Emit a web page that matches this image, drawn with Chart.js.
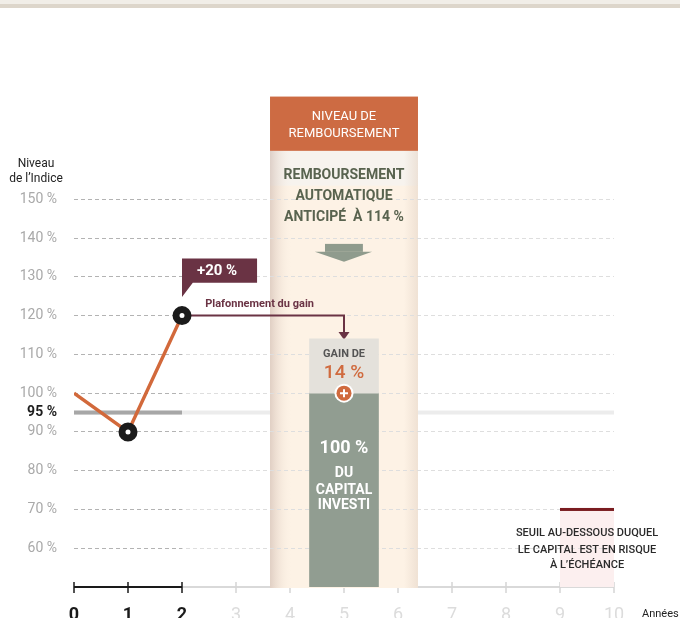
<!DOCTYPE html>
<html>
<head>
  <meta charset="UTF-8">
  <script src="https://cdn.jsdelivr.net/npm/chart.js@4.4.1/dist/chart.umd.min.js"></script>
  <style>
    body { margin: 0; background: #fff; }
  </style>
</head>
<body>
  <canvas id="myChart" width="680" height="618"></canvas>
  <script>
    // data
    const years = [0, 1, 2];
    const indexLevels = [100, 90, 120];
    const capitalRange = [50, 100];   // 100 % du capital
    const gainRange = [100, 114];     // gain de 14 %
    const redemptionYear = 5;
    const barrierLevel = 95;
    const riskLevel = 70;
    const riskYears = [9, 10];
    const yTickValues = [60, 70, 80, 90, 95, 100, 110, 120, 130, 140, 150];
    const xTickLabels = ['0', '1', '2', '3', '4', '5', '6', '7', '8', '9', '10'];

    const FONT = 'Roboto, "Noto Sans", sans-serif';
    const ORANGE = '#d2693b';
    const MAROON = '#6a3344';

    // column "niveau de remboursement" (data units)
    const col = { from: 3.63, to: 6.37, top: 176.5, header: 162.5, band: 153.5 };

    const tickVal = c => (c && c.tick) ? c.tick.value : null;

    const decor = {
      id: 'decor',
      beforeDraw(chart) {
        const { ctx, scales: { x, y } } = chart;
        const px = v => x.getPixelForValue(v), py = v => y.getPixelForValue(v);
        ctx.save();
        // bandes du haut
        ctx.fillStyle = '#f1eee8'; ctx.fillRect(0, 0, chart.width, 4);
        ctx.fillStyle = '#ddd6cb'; ctx.fillRect(0, 4, chart.width, 4);

        // seuil 95 %
        ctx.fillStyle = '#ececec';
        ctx.fillRect(px(0), py(barrierLevel) - 2, px(10) - px(0), 4);
        ctx.fillStyle = '#a7a7a7';
        ctx.fillRect(px(0), py(barrierLevel) - 2, px(2) - px(0), 4);

        // axe des années
        const y0 = py(50);
        ctx.lineWidth = 2;
        ctx.strokeStyle = '#d9d9d9';
        ctx.beginPath(); ctx.moveTo(px(2), y0); ctx.lineTo(px(10), y0); ctx.stroke();
        ctx.strokeStyle = '#1a1a1a';
        ctx.beginPath(); ctx.moveTo(px(0), y0); ctx.lineTo(px(2), y0); ctx.stroke();
        ctx.lineWidth = 1.5;
        xTickLabels.forEach((l, i) => {
          ctx.strokeStyle = i <= 2 ? '#1a1a1a' : '#d4d4d4';
          ctx.beginPath(); ctx.moveTo(px(i), y0 - 5); ctx.lineTo(px(i), y0 + 6); ctx.stroke();
        });

        // zone de risque
        ctx.fillStyle = '#fcefef';
        ctx.fillRect(px(riskYears[0]), py(riskLevel), px(riskYears[1]) - px(riskYears[0]), y0 - py(riskLevel));

        // colonne
        const cl = px(col.from), cr = px(col.to), cw = cr - cl;
        ctx.fillStyle = '#fdf2e5';
        ctx.fillRect(cl, py(col.header), cw, y0 + 1 - py(col.header));
        ctx.fillStyle = '#f7f3ee';
        ctx.fillRect(cl, py(col.header), cw, py(col.band) - py(col.header));
        let g = ctx.createLinearGradient(cl, 0, cl + 22, 0);
        g.addColorStop(0, 'rgba(200,178,168,0.55)');
        g.addColorStop(1, 'rgba(253,242,229,0)');
        ctx.fillStyle = g;
        ctx.fillRect(cl, py(col.header), 22, y0 + 1 - py(col.header));
        g = ctx.createLinearGradient(cr - 14, 0, cr, 0);
        g.addColorStop(0, 'rgba(230,214,200,0)');
        g.addColorStop(1, 'rgba(230,214,200,0.6)');
        ctx.fillStyle = g;
        ctx.fillRect(cr - 14, py(col.header), 14, y0 + 1 - py(col.header));
        ctx.fillStyle = '#cd6b43';
        ctx.fillRect(cl, py(col.top), cw, py(col.header) - py(col.top));
        ctx.restore();
      },
      beforeDatasetsDraw(chart) {
        const { ctx, scales: { x, y } } = chart;
        const px = v => x.getPixelForValue(v), py = v => y.getPixelForValue(v);
        ctx.save();
        // ligne du seuil de risque
        ctx.fillStyle = '#7a1c20';
        ctx.fillRect(px(riskYears[0]), py(riskLevel) - 1.5, px(riskYears[1]) - px(riskYears[0]), 3);

        // plafonnement du gain
        ctx.strokeStyle = MAROON; ctx.fillStyle = MAROON; ctx.lineWidth = 2;
        ctx.beginPath();
        ctx.moveTo(px(years[2]), py(indexLevels[2]));
        ctx.lineTo(px(redemptionYear), py(indexLevels[2]));
        ctx.lineTo(px(redemptionYear), py(115.8));
        ctx.stroke();
        ctx.beginPath();
        ctx.moveTo(px(redemptionYear) - 5.5, py(115.8));
        ctx.lineTo(px(redemptionYear) + 5.5, py(115.8));
        ctx.lineTo(px(redemptionYear), py(113.8));
        ctx.closePath(); ctx.fill();

        // bulle +20 %
        ctx.beginPath();
        ctx.moveTo(px(2), py(134.7));
        ctx.lineTo(px(3.39), py(134.7));
        ctx.lineTo(px(3.39), py(128.5));
        ctx.lineTo(px(2.2), py(128.5));
        ctx.lineTo(px(2), py(124.8));
        ctx.closePath(); ctx.fill();

        // flèche descendante
        ctx.fillStyle = '#8f9b8d';
        ctx.fillRect(px(4.648), py(138.5), px(5.35) - px(4.648), py(136.45) - py(138.5));
        ctx.beginPath();
        ctx.moveTo(px(4.46), py(136.45));
        ctx.lineTo(px(5.52), py(136.45));
        ctx.lineTo(px(5), py(133.9));
        ctx.closePath(); ctx.fill();
        ctx.restore();
      },
      afterDatasetsDraw(chart) {
        const { ctx, chartArea, scales: { x, y } } = chart;
        const px = v => x.getPixelForValue(v), py = v => y.getPixelForValue(v);
        const text = (s, xv, yv, font, color, align) => {
          ctx.font = font; ctx.fillStyle = color;
          ctx.textAlign = align || 'center'; ctx.textBaseline = 'middle';
          ctx.fillText(s, px(xv), py(yv));
        };
        ctx.save();
        // pastille +
        const cx = px(redemptionYear), cy = py(gainRange[0]);
        ctx.fillStyle = '#fff';
        ctx.beginPath(); ctx.arc(cx, cy, 9.5, 0, Math.PI * 2); ctx.fill();
        ctx.fillStyle = '#d06a3e';
        ctx.beginPath(); ctx.arc(cx, cy, 7.5, 0, Math.PI * 2); ctx.fill();
        ctx.strokeStyle = '#fff'; ctx.lineWidth = 2;
        ctx.beginPath();
        ctx.moveTo(cx - 4, cy); ctx.lineTo(cx + 4, cy);
        ctx.moveTo(cx, cy - 4); ctx.lineTo(cx, cy + 4);
        ctx.stroke();

        // textes de la colonne
        text('NIVEAU DE', 5, 171.3, '13px ' + FONT, '#fff');
        text('REMBOURSEMENT', 5, 166.9, '13px ' + FONT, '#fff');
        text('REMBOURSEMENT', 5, 156.1, 'bold 14px ' + FONT, '#59634f');
        text('AUTOMATIQUE', 5, 150.6, 'bold 14px ' + FONT, '#59634f');
        text('ANTICIPÉ  À 114 %', 5, 145.2, 'bold 14px ' + FONT, '#59634f');
        text('GAIN DE', 5, 110.1, 'bold 11px ' + FONT, '#555');
        text('14 %', 5, 105.2, '500 19px ' + FONT, '#d06a3e');
        text('100 %', 5, 85.6, 'bold 18px ' + FONT, '#fff');
        text('DU', 5, 79.4, 'bold 14px ' + FONT, '#fff');
        text('CAPITAL', 5, 75.0, 'bold 14px ' + FONT, '#fff');
        text('INVESTI', 5, 70.9, 'bold 14px ' + FONT, '#fff');

        // annotations
        text('+20 %', 2.65, 131.5, 'bold 15px ' + FONT, '#fff');
        text('Plafonnement du gain', 2.43, 123.0, 'bold 11px ' + FONT, MAROON, 'left');
        text('SEUIL AU-DESSOUS DUQUEL', 9.5, 63.9, '500 11px ' + FONT, '#2a2a2a');
        text('LE CAPITAL EST EN RISQUE', 9.5, 59.5, '500 11px ' + FONT, '#2a2a2a');
        text('À L\u2019ÉCHÉANCE', 9.5, 55.7, '500 11px ' + FONT, '#2a2a2a');

        // titres d'axes
        ctx.font = '12px ' + FONT; ctx.fillStyle = '#222';
        ctx.textAlign = 'center'; ctx.textBaseline = 'middle';
        ctx.fillText('Niveau', 36, 164);
        ctx.fillText('de l\u2019Indice', 36, 179);
        ctx.font = '11px ' + FONT;
        ctx.textAlign = 'left';
        ctx.fillText('Années', chartArea.right + 28, 614);
        ctx.restore();
      }
    };

    function gridColor(c) {
      if (tickVal(c) === barrierLevel) return 'rgba(0,0,0,0)';
      const ca = c.chart.chartArea;
      const sx = c.chart.scales.x;
      if (!ca || !sx) return '#ddd';
      const g = c.chart.ctx.createLinearGradient(ca.left, 0, ca.right, 0);
      const stop = Math.min(1, Math.max(0, (sx.getPixelForValue(2) - ca.left) / (ca.right - ca.left)));
      g.addColorStop(0, '#b3b3b3');
      g.addColorStop(stop, '#b3b3b3');
      g.addColorStop(stop, '#dedede');
      g.addColorStop(1, '#dedede');
      return g;
    }

    const ctx = document.getElementById('myChart').getContext('2d');
    const chart = new Chart(ctx, {
      type: 'bar',
      data: {
        datasets: [
          {
            type: 'line',
            data: years.map((yr, i) => ({ x: yr, y: indexLevels[i] })),
            borderColor: ORANGE,
            borderWidth: 3.5,
            pointRadius: c => c.dataIndex === 0 ? 0 : 6,
            pointBackgroundColor: '#fff',
            pointBorderColor: '#1b1b1b',
            pointBorderWidth: 7,
            tension: 0,
            order: 0
          },
          {
            data: [{ x: redemptionYear, y: capitalRange }],
            backgroundColor: '#919d91',
            barThickness: 69,
            grouped: false,
            order: 2
          },
          {
            data: [{ x: redemptionYear, y: gainRange }],
            backgroundColor: '#e4e1db',
            barThickness: 69,
            grouped: false,
            order: 1
          }
        ]
      },
      options: {
        responsive: false,
        animation: false,
        devicePixelRatio: 1,
        layout: { padding: { top: 83, right: 66, bottom: 0, left: 0 } },
        plugins: { legend: { display: false }, tooltip: { enabled: false } },
        scales: {
          x: {
            type: 'linear',
            offset: false,
            min: 0,
            max: 10,
            afterFit: s => { s.height = 31; },
            afterBuildTicks: s => { s.ticks = xTickLabels.map((l, i) => ({ value: i })); },
            grid: { display: false, drawTicks: false, offset: false },
            border: { display: false },
            ticks: {
              autoSkip: false,
              maxRotation: 0,
              padding: 18,
              callback: (v, i) => xTickLabels[i],
              color: c => tickVal(c) !== null && tickVal(c) <= 2 ? '#1a1a1a' : '#dcdcdc',
              font: c => ({ family: FONT, size: 18, weight: tickVal(c) !== null && tickVal(c) <= 2 ? 'bold' : 'normal' })
            }
          },
          y: {
            min: 50,
            max: 180,
            afterFit: s => { s.width = 74; },
            afterBuildTicks: s => { s.ticks = yTickValues.map(v => ({ value: v })); },
            grid: { color: gridColor, lineWidth: 1, drawTicks: false },
            border: { display: false, dash: [4, 3] },
            ticks: {
              autoSkip: false,
              padding: 17,
              callback: v => v + ' %',
              color: c => tickVal(c) === barrierLevel ? '#1e1e1e' : '#a9a9a9',
              font: c => ({ family: FONT, size: 14, weight: tickVal(c) === barrierLevel ? 'bold' : 'normal' })
            }
          }
        }
      },
      plugins: [decor]
    });
  </script>
</body>
</html>
